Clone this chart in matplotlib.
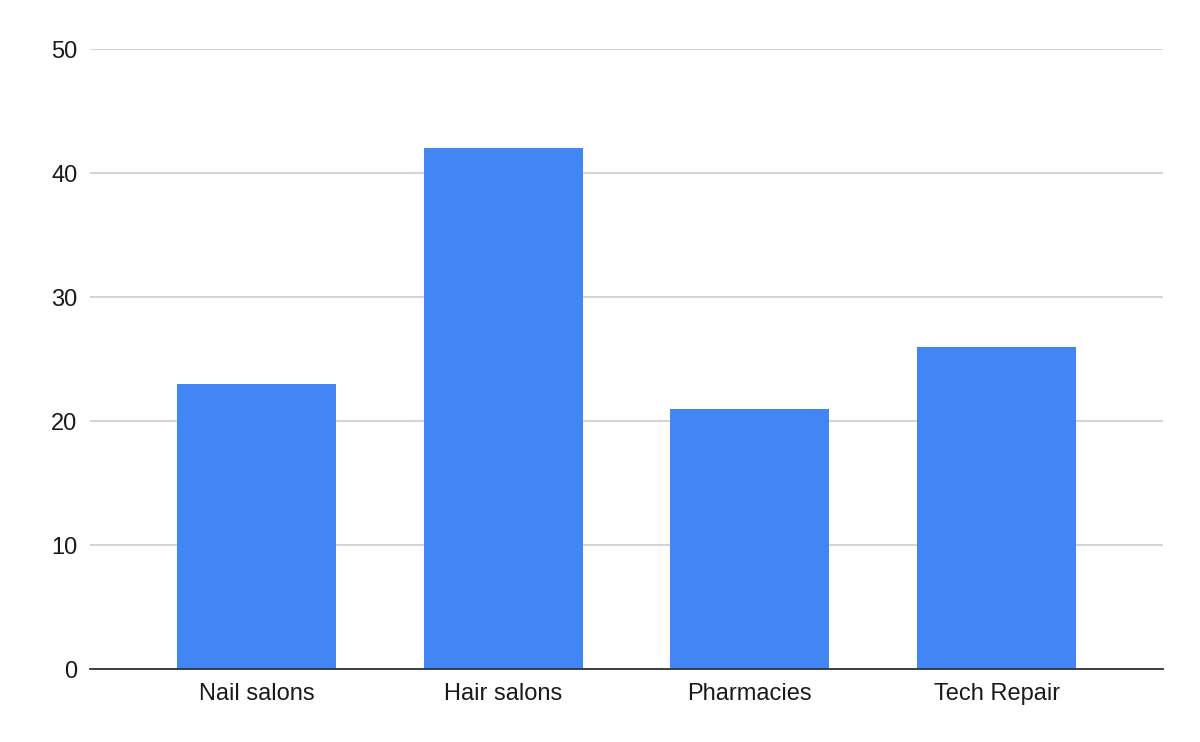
import matplotlib
matplotlib.use("Agg")
import matplotlib.pyplot as plt

categories = ["Nail salons", "Hair salons", "Pharmacies", "Tech Repair"]
values = [23, 42, 21, 26]
yticks = [0, 10, 20, 30, 40, 50]

plt.rcParams['font.family'] = ['Liberation Sans', 'DejaVu Sans']

W, H = 1200, 742
fig = plt.figure(figsize=(W / 100, H / 100), dpi=100)
left, right, top, bottom = 90, 1163, 49, 669
ax = fig.add_axes([left / W, (H - bottom) / H, (right - left) / W, (bottom - top) / H])

x = list(range(len(categories)))
ax.bar(x, values, width=0.644, color="#4285F4", zorder=3)

ax.set_xlim(-0.674, len(categories) - 1 + 0.674)
ax.set_ylim(0, 50)
ax.set_yticks(yticks)
ax.set_xticks(x)
ax.set_xticklabels(categories)
ax.tick_params(axis='both', length=0, labelsize=17, colors="#1a1a1a")
ax.tick_params(axis='y', pad=9)
ax.tick_params(axis='x', pad=10)
ax.yaxis.grid(True, color="#cccccc", linewidth=1.2, zorder=0)
ax.set_axisbelow(True)
for s in ['top', 'right', 'left']:
    ax.spines[s].set_visible(False)
ax.spines['bottom'].set_color("#333333")
ax.spines['bottom'].set_linewidth(1.3)
ax.spines['bottom'].set_zorder(4)

fig.savefig("out.png", dpi=100)
